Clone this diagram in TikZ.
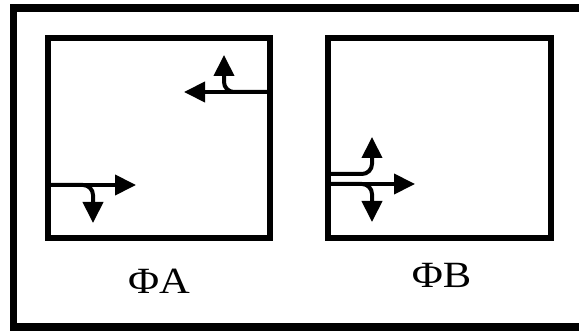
\documentclass[tikz,border=0pt]{standalone}
\usepackage{fontspec}
\setmainfont{Liberation Serif}
\usetikzlibrary{arrows.meta}
\begin{document}
\begin{tikzpicture}[x=1pt,y=-1pt,
  frame/.style={line width=7.5pt},
  box/.style={line width=6pt},
  flow/.style={line width=4pt,-{Triangle[length=21pt,width=20pt]}},
  turn/.style={flow,rounded corners=10pt},
  lbl/.style={font=\fontsize{37}{42}\selectfont,inner sep=0pt,anchor=base,xscale=1.15}]
\useasboundingbox (0,0) rectangle (579,331);
\clip (0,0) rectangle (579,331);
\draw[frame] (13.5,8) rectangle (600,327);
% box A
\draw[box] (48,38) rectangle (269.5,238);
\coordinate (a1) at (48,185);
\coordinate (a2) at (269.5,92);
\draw[flow] (a1) -- (136,185);
\draw[turn] (a1) -- (93,185) -- (93,223);
\draw[flow] (a2) -- (184,92);
\draw[turn] (a2) -- (224,92) -- (224,55);
% box B
\draw[box] (327.5,38) rectangle (551,238);
\coordinate (b1) at (327.5,174);
\coordinate (b2) at (327.5,184);
\draw[turn] (b1) -- (372,174) -- (372,137);
\draw[flow] (b2) -- (415,184);
\draw[turn] (b2) -- (372,184) -- (372,222);
% labels
\node[lbl] (la) at (159,294) {ΦA};
\node[lbl] (lb) at (441.5,287.5) {ΦB};
\end{tikzpicture}
\end{document}
